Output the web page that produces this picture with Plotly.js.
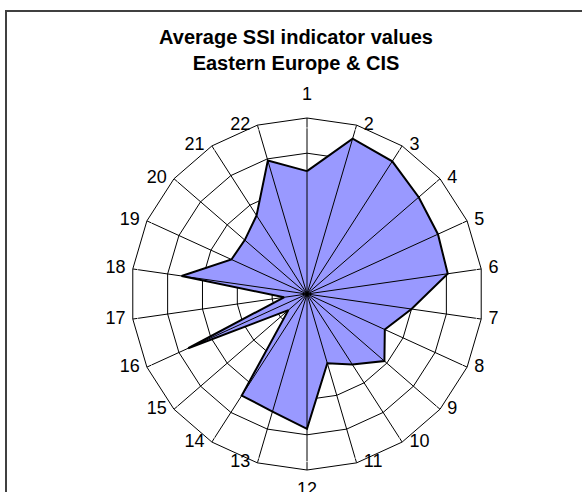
<!DOCTYPE html>
<html>
<head>
<meta charset="utf-8">
<script src="https://cdn.plot.ly/plotly-3.0.1.min.js"></script>
<style>html,body{margin:0;padding:0;background:#fff;}#chart{width:582px;height:492px;}</style>
</head>
<body>
<div id="chart"></div>
<script>
var categories = ['1','2','3','4','5','6','7','8','9','10','11','12','13','14','15','16','17','18','19','20','21','22'];
var values = [3.49, 4.60, 4.48, 4.20, 4.09, 4.04, 3.00, 2.43, 2.91, 2.38, 2.05, 3.83, 3.48, 3.43, 0.70, 3.71, 0.66, 3.60, 2.36, 2.34, 2.65, 3.95];
var radialMax = 5;
var titleText = 'Average SSI indicator values<br>Eastern Europe &amp; CIS';

// closed polygon
var rClosed = values.concat([values[0]]);
var tClosed = categories.concat([categories[0]]);

// spokes drawn over the fill (grid lines from centre to the outer ring)
var spokeR = [], spokeT = [], spokeSize = [];
categories.forEach(function(c){
  spokeR.push(0, radialMax, null); spokeT.push(c, c, c); spokeSize.push(9, 0, 0);
});

// category labels placed beside the outer ring vertices (Excel style)
var n = categories.length;
var labelPos = [], labelSize = [];
categories.forEach(function(c, i){
  var s = Math.sin(2 * Math.PI * i / n);
  var co = Math.cos(2 * Math.PI * i / n);
  if (Math.abs(s) < 0.1) {
    labelPos.push(co > 0 ? 'top center' : 'bottom center');
    labelSize.push(co > 0 ? 20 : 17);
  } else {
    labelPos.push(s > 0 ? 'middle right' : 'middle left');
    labelSize.push(10);
  }
});

var traces = [
  {type:'scatterpolar', r:rClosed, theta:tClosed, mode:'lines', fill:'toself',
   fillcolor:'#9999FF', line:{color:'#000', width:2}, hoverinfo:'skip'},
  {type:'scatterpolar', r:spokeR, theta:spokeT, mode:'lines+markers', connectgaps:false,
   line:{color:'#000', width:1}, marker:{color:'#000', size:spokeSize}, hoverinfo:'skip', cliponaxis:false},
  {type:'scatterpolar', r:categories.map(function(){return radialMax;}), theta:categories,
   mode:'markers+text', text:categories, textposition:labelPos, cliponaxis:false,
   marker:{size:labelSize, color:'rgba(0,0,0,0)'},
   textfont:{size:18, color:'#000', family:'Arial, "Liberation Sans", sans-serif'}, hoverinfo:'skip'}
];

var W = 582, H = 492, cx = 307, cy = 294, R = 176;
var layout = {
  width:W, height:H,
  margin:{l:0,r:0,t:0,b:0},
  paper_bgcolor:'#fff',
  showlegend:false,
  font:{family:'Arial, "Liberation Sans", sans-serif', color:'#000'},
  title:{text:titleText, font:{size:20, family:'Arial, "Liberation Sans", sans-serif', color:'#000', weight:'bold'},
         x:296/W, xanchor:'center', xref:'paper', y:1-44/H, yanchor:'top', yref:'container'},
  polar:{
    domain:{x:[(cx-R)/W,(cx+R)/W], y:[(H-cy-R)/H,(H-cy+R)/H]},
    gridshape:'linear',
    bgcolor:'#fff',
    radialaxis:{range:[0,radialMax], dtick:1, showticklabels:false, ticks:'', showline:false,
                gridcolor:'#000', gridwidth:1},
    angularaxis:{type:'category', categoryarray:categories, direction:'clockwise', rotation:90,
                 showgrid:false, showline:true, linecolor:'#000', linewidth:1,
                 ticks:'', showticklabels:false, layer:'above traces'}
  },
  shapes:[{type:'rect', xref:'paper', yref:'paper', x0:6/W, x1:1.05, y0:-0.05, y1:1-11/H,
           line:{color:'#404040', width:2}, fillcolor:'rgba(0,0,0,0)'}]
};
Plotly.newPlot('chart', traces, layout, {staticPlot:true});
</script>
</body>
</html>
